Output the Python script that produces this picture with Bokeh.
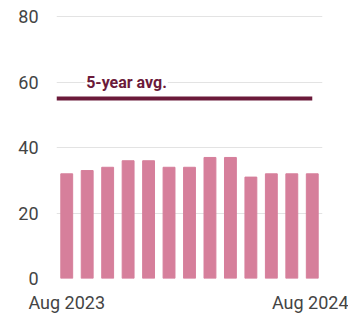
from bokeh.plotting import figure
from bokeh.models import Label, FixedTicker, Range1d
from bokeh.embed import file_html
from bokeh.resources import INLINE

months = ["Aug 2023", "Sep 2023", "Oct 2023", "Nov 2023", "Dec 2023", "Jan 2024",
          "Feb 2024", "Mar 2024", "Apr 2024", "May 2024", "Jun 2024", "Jul 2024", "Aug 2024"]
values = [32, 33, 34, 36, 36, 34, 34, 37, 37, 31, 32, 32, 32]
avg_5yr = 55
avg_label = "5-year avg."
y_ticks = [0, 20, 40, 60, 80]
x_tick_idx = [0, 12]

xs = list(range(len(months)))

p = figure(width=348, height=315, output_backend="svg", toolbar_location=None,
           x_range=Range1d(-0.5, 12.5), y_range=Range1d(0, 80.4),
           min_border_left=56, min_border_right=26, min_border_top=15, min_border_bottom=36)
p.outline_line_color = None
p.background_fill_color = "white"
p.border_fill_color = "white"

p.vbar(x=xs, top=values, width=0.58, color="#d67f9b")
p.line(x=[-0.5, 12], y=[avg_5yr, avg_5yr], line_width=4, color="#6b1a3a")

p.add_layout(Label(x=0.9, y=60, text=avg_label, text_font="Roboto", text_font_style="bold",
                   text_font_size="16px", text_color="#6b1a3a", text_baseline="alphabetic",
                   background_fill_color="white", padding=1))

p.xgrid.grid_line_color = None
p.ygrid.grid_line_color = "#e3e3e3"
p.ygrid.grid_line_width = 1

ya = p.yaxis[0]
ya.ticker = FixedTicker(ticks=y_ticks)
ya.axis_line_color = None
ya.major_tick_line_color = None
ya.minor_tick_line_color = None
ya.major_tick_out = 0
ya.major_tick_in = 0
ya.major_label_standoff = 18
ya.major_label_text_font = "Roboto"
ya.major_label_text_font_size = "18px"
ya.major_label_text_color = "#444444"

xa = p.xaxis[0]
xa.ticker = FixedTicker(ticks=x_tick_idx)
xa.major_label_overrides = {i: months[i] for i in x_tick_idx}
xa.axis_line_color = None
xa.major_tick_line_color = None
xa.minor_tick_line_color = None
xa.major_tick_out = 0
xa.major_tick_in = 0
xa.major_label_standoff = 13
xa.major_label_text_font = "Roboto"
xa.major_label_text_font_size = "18px"
xa.major_label_text_color = "#444444"

open("out.html", "w").write(file_html(p, INLINE))
